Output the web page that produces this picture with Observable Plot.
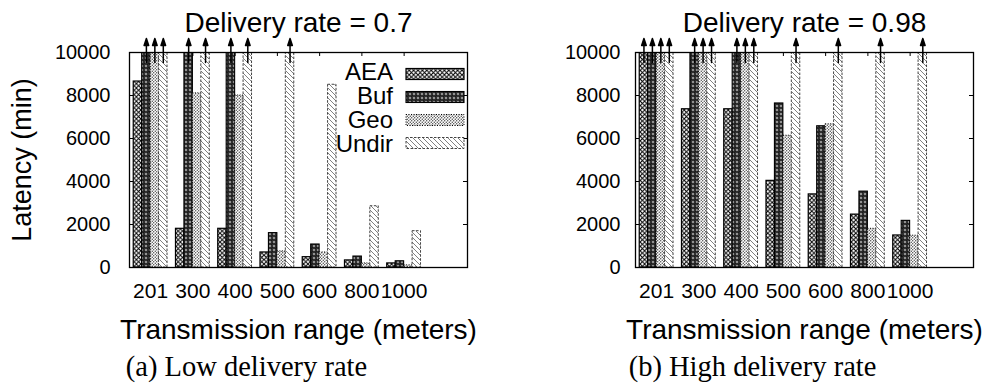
<!DOCTYPE html>
<html><head><meta charset="utf-8">
<script src="https://cdn.jsdelivr.net/npm/d3@7"></script>
<script src="https://cdn.jsdelivr.net/npm/@observablehq/plot@0.6"></script>
<style>
html,body{margin:0;padding:0;background:#fff;}
#wrap{position:relative;width:991px;height:392px;overflow:hidden;background:#fff;}
#wrap > svg{position:absolute;top:0;}
</style></head><body>
<svg width="0" height="0" style="position:absolute">
<defs>
<pattern id="pAEA" patternUnits="userSpaceOnUse" width="4.4" height="4.4">
  <rect width="4.4" height="4.4" fill="#fff"/>
  <path d="M0,0L4.4,4.4M4.4,0L0,4.4" stroke="#000" stroke-width="1"/>
</pattern>
<pattern id="pBuf" patternUnits="userSpaceOnUse" width="4" height="4">
  <rect width="4" height="4" fill="#1a1a1a"/>
  <circle cx="2" cy="2" r="0.9" fill="none" stroke="#fff" stroke-width="0.6"/>
  <circle cx="0" cy="0" r="0.4" fill="#bbb"/>
  <circle cx="4" cy="4" r="0.4" fill="#bbb"/>
</pattern>
<pattern id="pGeo" patternUnits="userSpaceOnUse" width="3" height="3">
  <rect width="3" height="3" fill="#fff"/>
  <circle cx="0.75" cy="0.75" r="0.65" fill="#333"/>
  <circle cx="2.25" cy="2.25" r="0.65" fill="#333"/>
</pattern>
<pattern id="pUndir" patternUnits="userSpaceOnUse" width="5" height="5">
  <rect width="5" height="5" fill="#fff"/>
  <path d="M0,0L5,5M-1,4L1,6M4,-1L6,1" stroke="#808080" stroke-width="1"/>
</pattern>
</defs>
</svg>
<div id="wrap"></div>
<script>
// ---- data ----
const categories = ["201", "300", "400", "500", "600", "800", "1000"];
const series = ["AEA", "Buf", "Geo", "Undir"];
const yTicks = [0, 2000, 4000, 6000, 8000, 10000];
// values above 10000 are off the chart (drawn clipped with an arrow); 12000 is an estimate
const lowAEA   = [8650, 1800, 1800, 700, 480, 330, 190];
const lowBuf   = [12000, 12000, 12000, 1600, 1070, 510, 290];
const lowGeo   = [12000, 8100, 8000, 750, 700, 190, 100];
const lowUndir = [12000, 12000, 12000, 12000, 8500, 2850, 1690];
const highAEA   = [12000, 7360, 7360, 4030, 3400, 2460, 1490];
const highBuf   = [12000, 12000, 12000, 7630, 6570, 3530, 2170];
const highGeo   = [12000, 12000, 12000, 6130, 6660, 1800, 1480];
const highUndir = [12000, 12000, 12000, 12000, 12000, 12000, 12000];
const titles = ["Delivery rate = 0.7", "Delivery rate = 0.98"];
const captions = ["(a) Low delivery rate", "(b) High delivery rate"];
const xLabel = "Transmission range (meters)";
const yLabel = "Latency (min)";

const styles = {
  AEA:   {fill: "url(#pAEA)", stroke: "#000", strokeWidth: 1.2, strokeDasharray: null},
  Buf:   {fill: "url(#pBuf)", stroke: "#000", strokeWidth: 1.1, strokeDasharray: null},
  Geo:   {fill: "url(#pGeo)", stroke: "#000", strokeWidth: 1, strokeDasharray: "1,1.5"},
  Undir: {fill: "url(#pUndir)", stroke: "#444", strokeWidth: 1, strokeDasharray: "2.5,1.5"}
};

function toRows(arrs) {
  const rows = [];
  series.forEach((s, si) => arrs[si].forEach((v, g) => rows.push({s, si, g, v})));
  return rows;
}

const yMax = 10000;
const arrowShape = {
  draw(ctx, l) {
    ctx.moveTo(0, 0);
    ctx.lineTo(0, -l + 5);
    ctx.moveTo(0, -l);
    ctx.lineTo(-2.3, -l + 7);
    ctx.lineTo(2.3, -l + 7);
    ctx.closePath();
  }
};

function chart({rows, title, caption, W, left, right, padY, withYLabel, withLegend}) {
  const H = 392, mt = 52, mb = 125;
  const fw = W - left - right, fh = H - mt - mb;
  const gi = categories.map((c, i) => i);
  const T = {textAnchor: "middle", lineAnchor: "middle", text: d => d};
  const marks = [
    Plot.tickY(yTicks, {y: d => d, insetRight: fw - 4, stroke: "#000"}),
    Plot.tickY(yTicks, {y: d => d, insetLeft: fw - 4, stroke: "#000"}),
    Plot.tickX(gi, {x: d => d, insetBottom: fh - 4, stroke: "#000"})
  ];
  series.forEach((s, si) => {
    const st = styles[s];
    marks.push(Plot.rectY(rows.filter(r => r.s === s), {
      x1: r => r.g - 0.4 + 0.2 * si, x2: r => r.g - 0.2 + 0.2 * si,
      y1: 0, y2: r => r.v, clip: true,
      fill: st.fill, stroke: st.stroke, strokeWidth: st.strokeWidth, strokeDasharray: st.strokeDasharray
    }));
  });
  marks.push(Plot.vector(rows.filter(r => r.v > yMax), {
    x: r => r.g - 0.3 + 0.2 * r.si, y: () => yMax, length: 24, dy: -2,
    shape: arrowShape, stroke: "#000", fill: "#000", strokeWidth: 1.5
  }));
  marks.push(Plot.frame({stroke: "#000", strokeWidth: 1.3}));
  marks.push(Plot.axisY({ticks: yTicks, tickSize: 0, tickPadding: padY, fontSize: 20, tickFormat: d3.format("d"), label: null}));
  marks.push(Plot.axisX({ticks: gi, tickSize: 0, tickPadding: 16, fontSize: 21, tickFormat: i => categories[i], label: null}));
  marks.push(Plot.text([title], {...T, frameAnchor: "top", dy: -29.5, fontSize: 28}));
  marks.push(Plot.text([xLabel], {...T, frameAnchor: "bottom", dy: 62.5, fontSize: 28}));
  marks.push(Plot.text([caption], {...T, frameAnchor: "bottom", dy: 99.5, dx: -52, fontSize: 28.5, fontFamily: "'Liberation Serif', 'Times New Roman', serif"}));
  if (withYLabel) marks.push(Plot.text([yLabel], {...T, frameAnchor: "left", dx: -107, rotate: -90, fontSize: 27}));
  const svg = Plot.plot({
    width: W, height: H, marginTop: mt, marginBottom: mb, marginLeft: left, marginRight: right,
    style: {fontFamily: "'Liberation Sans', Arial, sans-serif", color: "#000", background: "#fff"},
    x: {domain: [-0.5, 7.5], axis: null},
    y: {domain: [0, yMax], axis: null},
    marks
  });
  if (withLegend) {
    const g = d3.select(svg).append("g");
    const xr = W - right;
    series.forEach((s, i) => {
      const st = styles[s];
      g.append("text").attr("x", xr - 74).attr("y", 72 + 23.7 * i).attr("dy", "0.35em")
        .attr("text-anchor", "end").attr("font-size", 24).attr("fill", "#000").text(s);
      g.append("rect").attr("x", xr - 61).attr("y", 74 + 23 * i - 5.5).attr("width", 58).attr("height", 11)
        .attr("fill", st.fill).attr("stroke", st.stroke).attr("stroke-width", st.strokeWidth)
        .attr("stroke-dasharray", st.strokeDasharray);
    });
  }
  return svg;
}

const wrap = document.getElementById("wrap");
const a = chart({rows: toRows([lowAEA, lowBuf, lowGeo, lowUndir]), title: titles[0], caption: captions[0],
  W: 495, left: 129, right: 28, padY: 19, withYLabel: true, withLegend: true});
a.style.left = "0px";
wrap.appendChild(a);
const b = chart({rows: toRows([highAEA, highBuf, highGeo, highUndir]), title: titles[1], caption: captions[1],
  W: 496, left: 140, right: 18, padY: 15, withYLabel: false, withLegend: false});
b.style.left = "495px";
wrap.appendChild(b);
</script>
</body></html>
